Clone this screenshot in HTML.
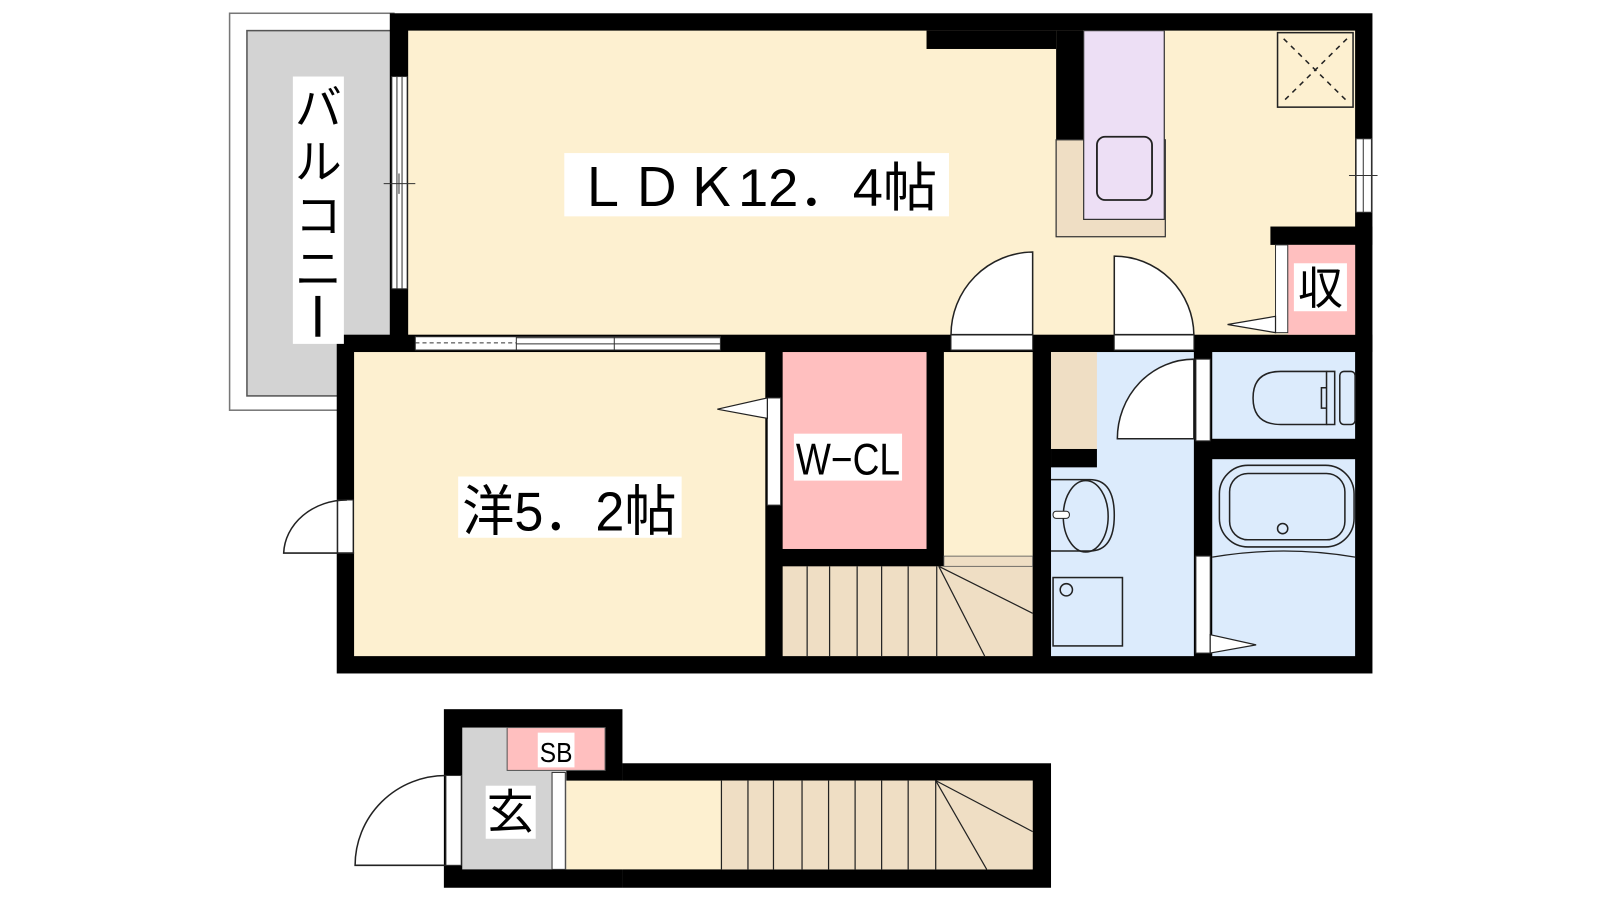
<!DOCTYPE html>
<html><head><meta charset="utf-8"><style>html,body{margin:0;padding:0;background:#fff}svg{display:block}</style></head>
<body>
<svg width="1600" height="900" viewBox="0 0 1568 882" xmlns="http://www.w3.org/2000/svg" font-family="'Liberation Sans','Noto Sans CJK JP',sans-serif">
<rect width="1568" height="882" fill="#fff"/>
<!-- balcony -->
<rect x="225" y="13" width="161" height="389" fill="#fff" stroke="#777" stroke-width="1.5"/>
<rect x="242" y="30" width="144" height="358" fill="#d3d3d3" stroke="#555" stroke-width="1.5"/>
<!-- main black building -->
<rect x="382" y="13" width="963" height="332" fill="#000"/>
<rect x="330" y="328" width="1015" height="332" fill="#000"/>
<!-- LDK -->
<rect x="400" y="30" width="928" height="298" fill="#fdf0d0"/>
<rect x="908" y="30" width="127" height="18" fill="#000"/>
<rect x="1035" y="30" width="27" height="107" fill="#000"/>
<rect x="1035" y="137" width="107" height="95" fill="#efdec4" stroke="#333" stroke-width="1.2"/>
<rect x="1062" y="30" width="79" height="185" fill="#eddff5" stroke="#333" stroke-width="1.2"/>
<rect x="1075" y="134" width="54" height="62" rx="8" fill="#eddff5" stroke="#222" stroke-width="1.8"/>
<rect x="1252" y="32" width="74" height="73" fill="#fdf0d0" stroke="#222" stroke-width="1.5"/>
<path d="M1258 38 L1320 99 M1320 38 L1258 99" stroke="#222" stroke-width="1.5" stroke-dasharray="5 5"/>
<!-- right window -->
<rect x="1329" y="136" width="15" height="72" fill="#fff" stroke="#333" stroke-width="1"/>
<line x1="1336" y1="136" x2="1336" y2="208" stroke="#333"/>
<line x1="1322" y1="172" x2="1350" y2="172" stroke="#333"/>
<!-- 収 -->
<rect x="1245" y="222" width="100" height="18" fill="#000"/>
<rect x="1262" y="240" width="66" height="88" fill="#ffbfbf"/>
<rect x="1250" y="240" width="12" height="86" fill="#fff" stroke="#333"/>
<polygon points="1203,318 1250,310 1250,326" fill="#fff" stroke="#222" stroke-width="1.2"/>
<rect x="1268" y="258" width="52" height="47" fill="#fff"/>
<text x="1294" y="298" font-size="44" text-anchor="middle">収</text>
<!-- left LDK window -->
<rect x="384" y="75" width="15" height="208" fill="#fff" stroke="#333"/>
<line x1="389" y1="75" x2="389" y2="283" stroke="#333"/>
<line x1="394" y1="75" x2="394" y2="283" stroke="#333"/>
<line x1="376" y1="180" x2="407" y2="180" stroke="#333"/>
<line x1="391" y1="170" x2="391" y2="190" stroke="#333"/>
<!-- sliding door -->
<rect x="407" y="330" width="299" height="13" fill="#fff" stroke="#333"/>
<line x1="407" y1="336" x2="506" y2="336" stroke="#333" stroke-dasharray="4 3"/>
<line x1="506" y1="331" x2="706" y2="331" stroke="#333"/>
<line x1="506" y1="337" x2="706" y2="337" stroke="#333"/>
<line x1="506" y1="330" x2="506" y2="343" stroke="#333"/>
<line x1="602" y1="330" x2="602" y2="343" stroke="#333"/>
<!-- LDK doors -->
<rect x="932" y="328" width="80" height="15" fill="#fff" stroke="#333"/>
<path d="M1012 328 L1012 247 A81 81 0 0 0 932 328 Z" fill="#fff" stroke="#222" stroke-width="1.5"/>
<rect x="1092" y="328" width="78" height="15" fill="#fff" stroke="#333"/>
<path d="M1092 328 L1092 251 A78 78 0 0 1 1170 328 Z" fill="#fff" stroke="#222" stroke-width="1.5"/>
<!-- LDK label -->
<rect x="553" y="150" width="377" height="62" fill="#fff"/>
<text x="741" y="202" font-size="52" text-anchor="middle" textLength="355" lengthAdjust="spacingAndGlyphs">ＬＤＫ12．4帖</text>
<!-- bedroom -->
<rect x="347" y="345" width="403" height="298" fill="#fdf0d0"/>
<rect x="331" y="490" width="15" height="52" fill="#fff" stroke="#333"/>
<path d="M347 542 L278 542 A62 54 0 0 1 340 490" fill="none" stroke="#222" stroke-width="1.5"/>
<rect x="449" y="467" width="219" height="60" fill="#fff"/>
<text x="558" y="520" font-size="54" text-anchor="middle" textLength="210" lengthAdjust="spacingAndGlyphs">洋5．2帖</text>
<!-- W-CL -->
<rect x="767" y="345" width="141" height="193" fill="#ffbfbf"/>
<rect x="752" y="390" width="13" height="105" fill="#fff" stroke="#333"/>
<polygon points="703,401 752,390 752,410" fill="#fff" stroke="#222" stroke-width="1.2"/>
<rect x="778" y="425" width="106" height="46" fill="#fff"/>
<text x="831" y="465" font-size="44" text-anchor="middle" textLength="102" lengthAdjust="spacingAndGlyphs">W−CL</text>
<!-- hall + stairs -->
<rect x="925" y="345" width="87" height="200" fill="#fdf0d0"/>
<rect x="767" y="555" width="245" height="88" fill="#efdec4"/>
<rect x="925" y="545" width="87" height="10" fill="#efdec4" stroke="#555" stroke-width="0.8"/>
<g stroke="#222" stroke-width="1.2">
<line x1="791" y1="555" x2="791" y2="643"/><line x1="813" y1="555" x2="813" y2="643"/>
<line x1="840" y1="555" x2="840" y2="643"/><line x1="864" y1="555" x2="864" y2="643"/>
<line x1="890" y1="555" x2="890" y2="643"/><line x1="918" y1="555" x2="918" y2="643"/>
<line x1="920" y1="555" x2="1012" y2="601"/><line x1="920" y1="555" x2="965" y2="643"/>
</g>
<!-- wash room -->
<rect x="1030" y="345" width="140" height="298" fill="#dcebfc"/>
<rect x="1030" y="345" width="45" height="95" fill="#efdec4"/>
<rect x="1030" y="440" width="45" height="18" fill="#000"/>
<path d="M1030 470 L1068 470 Q1092 470 1092 505 Q1092 540 1068 540 L1030 540" fill="none" stroke="#222" stroke-width="1.5"/>
<ellipse cx="1064" cy="506" rx="22" ry="35" fill="none" stroke="#222" stroke-width="1.5"/>
<rect x="1032" y="501" width="16" height="7" rx="3" fill="#fff" stroke="#222"/>
<rect x="1032" y="566" width="68" height="67" fill="none" stroke="#222" stroke-width="1.5"/>
<circle cx="1045" cy="578" r="6" fill="none" stroke="#222" stroke-width="1.5"/>
<path d="M1170 430 L1095 430 A75 78 0 0 1 1170 352 Z" fill="#fff" stroke="#222" stroke-width="1.5"/>
<rect x="1172" y="352" width="14" height="80" fill="#fff" stroke="#333"/>
<!-- toilet -->
<rect x="1188" y="345" width="140" height="85" fill="#dcebfc"/>
<path d="M1300 364 L1255 364 Q1228 364 1228 390 Q1228 416 1255 416 L1300 416 Z" fill="none" stroke="#222" stroke-width="1.5"/>
<path d="M1300 364 L1308 364 L1308 416 L1300 416 M1300 380 L1295 380 L1295 400 L1300 400" fill="none" stroke="#222" stroke-width="1.5"/>
<rect x="1313" y="364" width="15" height="52" rx="4" fill="none" stroke="#222" stroke-width="1.5"/>
<!-- bath -->
<rect x="1188" y="450" width="140" height="193" fill="#dcebfc"/>
<rect x="1195" y="456" width="132" height="80" rx="28" fill="none" stroke="#222" stroke-width="1.5"/>
<rect x="1205" y="464" width="113" height="65" rx="18" fill="none" stroke="#222" stroke-width="1.5"/>
<circle cx="1257" cy="518" r="5" fill="none" stroke="#222" stroke-width="1.5"/>
<path d="M1188 546 Q1258 534 1328 546" fill="none" stroke="#222" stroke-width="1.2"/>
<rect x="1172" y="545" width="14" height="95" fill="#fff" stroke="#333"/>
<polygon points="1186,622 1231,632 1186,640" fill="#fff" stroke="#222" stroke-width="1.2"/>
<!-- balcony label -->
<rect x="287" y="75" width="50" height="262" fill="#fff"/>
<text font-size="46" text-anchor="middle">
<tspan x="312" y="122">バ</tspan><tspan x="312" y="175">ル</tspan><tspan x="312" y="228">コ</tspan><tspan x="312" y="280">ニ</tspan></text>
<rect x="309" y="290" width="5" height="40" fill="#000"/>
<!-- lower block -->
<rect x="435" y="695" width="175" height="175" fill="#000"/>
<rect x="610" y="748" width="420" height="122" fill="#000"/>
<rect x="453" y="713" width="102" height="139" fill="#d3d3d3"/>
<rect x="497" y="713" width="96" height="42" fill="#ffbfbf" stroke="#555"/>
<rect x="527" y="718" width="36" height="34" fill="#fff"/>
<text x="545" y="747" font-size="27" text-anchor="middle" textLength="32" lengthAdjust="spacingAndGlyphs">SB</text>
<rect x="555" y="765" width="457" height="87" fill="#fdf0d0"/>
<rect x="707" y="765" width="305" height="87" fill="#efdec4"/>
<g stroke="#222" stroke-width="1.2">
<line x1="707" y1="765" x2="707" y2="852"/><line x1="733" y1="765" x2="733" y2="852"/>
<line x1="758" y1="765" x2="758" y2="852"/><line x1="786" y1="765" x2="786" y2="852"/>
<line x1="812" y1="765" x2="812" y2="852"/><line x1="838" y1="765" x2="838" y2="852"/>
<line x1="864" y1="765" x2="864" y2="852"/><line x1="890" y1="765" x2="890" y2="852"/>
<line x1="917" y1="765" x2="917" y2="852"/>
<line x1="917" y1="765" x2="1012" y2="815"/><line x1="917" y1="765" x2="967" y2="852"/>
</g>
<rect x="541" y="757" width="13" height="95" fill="#fff" stroke="#333"/>
<rect x="437" y="760" width="15" height="88" fill="#fff" stroke="#333"/>
<path d="M437 848 L348 848 A89 88 0 0 1 437 760" fill="none" stroke="#222" stroke-width="1.5"/>
<rect x="476" y="770" width="49" height="52" fill="#fff"/>
<text x="500" y="812" font-size="46" text-anchor="middle">玄</text>
</svg>
</body></html>
